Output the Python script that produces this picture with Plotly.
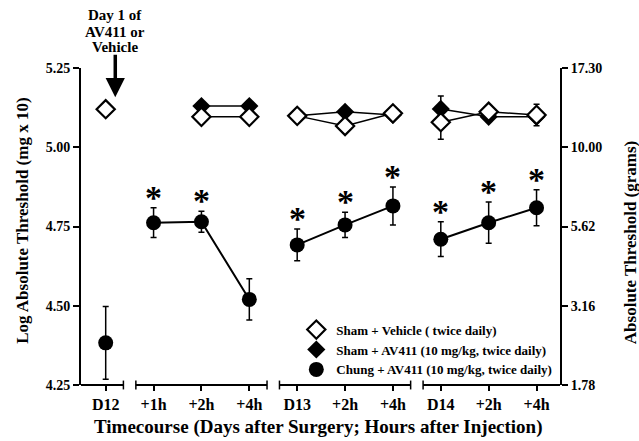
import plotly.graph_objects as go

# ---- data ----
tick_labels = ["D12", "+1h", "+2h", "+4h", "D13", "+2h", "+4h", "D14", "+2h", "+4h"]
segments = [[0], [1, 2, 3], [4, 5, 6], [7, 8, 9]]

sham_vehicle = [5.120, None, 5.096, 5.096, 5.099, 5.067, 5.107, 5.079, 5.112, 5.102]
sham_vehicle_err = [0.01, None, 0.01, 0.01, 0.01, 0.01, 0.01, 0.054, 0.01, 0.034]

sham_av411 = [None, None, 5.130, 5.130, 5.099, 5.112, 5.102, 5.121, 5.096, 5.096]
sham_av411_err = [None, None, 0.01, 0.01, 0.01, 0.01, 0.01, 0.041, 0.01, 0.01]

chung_av411 = [4.383, 4.762, 4.765, 4.520, 4.692, 4.755, 4.815, 4.710, 4.762, 4.809]
chung_av411_err = [0.115, 0.047, 0.033, 0.065, 0.050, 0.040, 0.060, 0.055, 0.065, 0.057]
significant = [False, True, True, False, True, True, True, True, True, True]

left_ticks = [4.25, 4.50, 4.75, 5.00, 5.25]
right_tick_labels = ["1.78", "3.16", "5.62", "10.00", "17.30"]

series_names = ["Sham + Vehicle ( twice daily)",
                "Sham + AV411 (10 mg/kg, twice daily)",
                "Chung + AV411 (10 mg/kg, twice daily)"]
day1_text = ["Day 1 of", "AV411 or", "Vehicle"]

FONT = "Liberation Serif"


def bold(size):
    return dict(family=FONT, size=size, color="black", weight=700)


def broken(vals):
    xs, ys = [], []
    for seg in segments:
        for i in seg:
            xs.append(i)
            ys.append(vals[i])
        xs.append(None)
        ys.append(None)
    return xs, ys


def broken_err(errs):
    out = []
    for seg in segments:
        for i in seg:
            out.append(errs[i])
        out.append(None)
    return out


marker_chung = dict(symbol="circle", size=15, color="black")
marker_sham_av = dict(symbol="diamond", size=14, color="black")
marker_sham_veh = dict(symbol="diamond", size=14, color="white",
                       line=dict(color="black", width=2.2))

fig = go.Figure()

x, y = broken(chung_av411)
fig.add_trace(go.Scatter(
    x=x, y=y, mode="lines+markers", showlegend=False,
    line=dict(color="black", width=2), marker=marker_chung,
    error_y=dict(type="data", array=broken_err(chung_av411_err), color="black",
                 thickness=1.5, width=3),
))

x, y = broken(sham_av411)
fig.add_trace(go.Scatter(
    x=x, y=y, mode="lines+markers", showlegend=False,
    line=dict(color="black", width=1.5), marker=marker_sham_av,
    error_y=dict(type="data", array=broken_err(sham_av411_err), color="black",
                 thickness=1.5, width=3),
))

x, y = broken(sham_vehicle)
fig.add_trace(go.Scatter(
    x=x, y=y, mode="lines+markers", showlegend=False,
    line=dict(color="black", width=1.5), marker=marker_sham_veh,
    error_y=dict(type="data", array=broken_err(sham_vehicle_err), color="black",
                 thickness=1.5, width=3),
))

# legend-only entries (markers only, as in the original)
for name, mk in zip(series_names, [marker_sham_veh, marker_sham_av, marker_chung]):
    fig.add_trace(go.Scatter(x=[None], y=[None], mode="markers", name=name, marker=mk))

# anchor trace for the right axis
fig.add_trace(go.Scatter(x=[0], y=[left_ticks[0]], yaxis="y2", mode="markers",
                         marker=dict(opacity=0), showlegend=False, hoverinfo="skip"))

# significance asterisks
for i, sig in enumerate(significant):
    if sig:
        fig.add_annotation(x=i, y=chung_av411[i] + chung_av411_err[i], text="*",
                           showarrow=False, yanchor="bottom", yshift=-10,
                           font=bold(34))

# broken x axis
xmin, xmax = -0.516, 9.49
for k, seg in enumerate(segments):
    lo = xmin if k == 0 else seg[0] - 0.37
    hi = xmax if k == len(segments) - 1 else seg[-1] + 0.37
    fig.add_shape(type="line", xref="x", yref="paper", x0=lo, x1=hi, y0=0, y1=0,
                  line=dict(color="black", width=2))
    for xe in (lo, hi):
        if xe in (xmin, xmax):
            continue
        fig.add_shape(type="line", xref="x", yref="paper", x0=xe, x1=xe,
                      y0=-0.014, y1=0.014, line=dict(color="black", width=1.5))

# Day 1 arrow + label
fig.add_annotation(x=0.2, y=5.158, ax=0, ay=-44, text="", showarrow=True,
                   arrowhead=2, arrowsize=1.1, arrowwidth=3.5, arrowcolor="black")
for line, py in zip(day1_text, [1.167, 1.1145, 1.067]):
    fig.add_annotation(x=0.2, y=py, xref="x", yref="paper", yanchor="middle",
                       text=line, showarrow=False, font=bold(15))

# axis titles
fig.add_annotation(x=-0.1238, y=0.517, xref="paper", yref="paper", textangle=-90,
                   text="Log Absolute Threshold (mg x 10)", showarrow=False,
                   xanchor="center", yanchor="middle", font=bold(17))
fig.add_annotation(x=1.1486, y=0.448, xref="paper", yref="paper", textangle=-90,
                   text="Absolute Threshold (grams)", showarrow=False,
                   xanchor="center", yanchor="middle", font=bold(17))
fig.add_annotation(x=0.4948, y=-0.1325, xref="paper", yref="paper",
                   text="Timecourse (Days after Surgery; Hours after Injection)",
                   showarrow=False, xanchor="center", yanchor="middle", font=bold(19))

fig.update_layout(
    width=639, height=441,
    margin=dict(l=81, r=79, t=68, b=56),
    paper_bgcolor="white", plot_bgcolor="white",
    showlegend=True,
    legend=dict(x=0.4495, y=0.222, xanchor="left", yanchor="top",
                bgcolor="rgba(0,0,0,0)", tracegroupgap=0, itemwidth=30,
                font=bold(13)),
    xaxis=dict(range=[xmin, xmax], showline=False, showgrid=False, zeroline=False,
               tickvals=list(range(len(tick_labels))), ticktext=tick_labels,
               ticks="outside", ticklen=5, tickwidth=1.5, tickcolor="black",
               tickfont=bold(16)),
    yaxis=dict(range=[4.25, 5.25], showline=True, linewidth=2, linecolor="black",
               showgrid=False, zeroline=False, tickvals=left_ticks,
               ticktext=[f"{v:.2f}" for v in left_ticks],
               ticks="outside", ticklen=6, tickwidth=1.5, tickcolor="black",
               tickfont=bold(14)),
    yaxis2=dict(range=[4.25, 5.25], overlaying="y", side="right", showline=True,
                linewidth=2, linecolor="black", showgrid=False, zeroline=False,
                tickvals=left_ticks, ticktext=right_tick_labels,
                ticks="outside", ticklen=6, tickwidth=1.5, tickcolor="black",
                tickfont=bold(14)),
)

fig.write_html("out.html", config={"displayModeBar": False},
               post_script="document.body.style.margin='0';")
